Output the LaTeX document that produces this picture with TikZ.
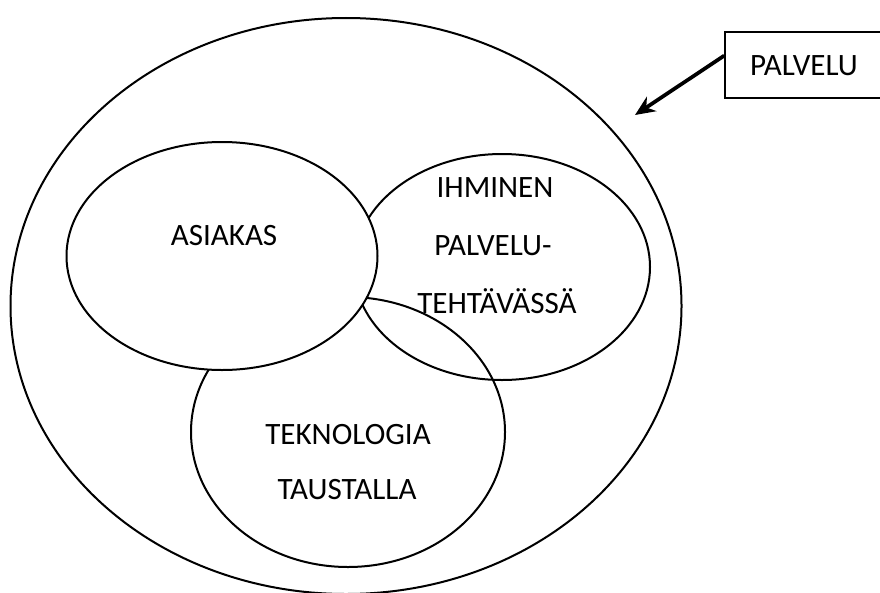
\documentclass[tikz,border=0pt]{standalone}
\usepackage{fontspec}
\setmainfont{Carlito}
\usetikzlibrary{shapes.geometric,arrows.meta}
\begin{document}
\begin{tikzpicture}[x=0.75pt,y=-0.75pt,
  ring/.style={draw=black,line width=1.5pt,ellipse,inner sep=0pt},
  lbl/.style={font=\fontsize{23.3}{27}\selectfont,anchor=base,inner sep=0pt},
  tagbox/.style={draw=black,line width=1.2pt,rectangle,inner sep=0pt,
    minimum width=160*0.75pt,minimum height=66*0.75pt}]
  \useasboundingbox (0,0) rectangle (880,592);
  \clip (0,0) rectangle (880,592);
  % whole service
  \node[ring,minimum width=671*0.75pt,minimum height=576*0.75pt] (outer) at (346,306) {};
  % the three parts
  \node[ring,minimum width=296*0.75pt,minimum height=226*0.75pt] (ihminen) at (502,267) {};
  \node[ring,minimum width=314*0.75pt,minimum height=270*0.75pt] (tekno) at (348,432) {};
  \node[ring,fill=white,minimum width=311*0.75pt,minimum height=228*0.75pt] (asiakas) at (222,256) {};
  % labels
  \node[lbl] (tA) at (224,245) {ASIAKAS};
  \node[lbl] (tI1) at (495,197) {IHMINEN};
  \node[lbl] (tI2) at (493,255) {PALVELU-};
  \node[lbl] (tI3) at (497,313) {TEHTÄVÄSSÄ};
  \node[lbl] (tT1) at (348,444) {TEKNOLOGIA};
  \node[lbl] (tT2) at (347,499) {TAUSTALLA};
  % caption box with pointer
  \node[tagbox] (palvelu) at (805,65) {};
  \node[lbl] (tP) at (804,75) {PALVELU};
  \coordinate (tip) at (635,115);
  \draw[line width=2.8pt,-{Stealth[length=15pt,width=13pt]}]
    ([yshift=7pt]palvelu.west) -- (tip);
\end{tikzpicture}
\end{document}
